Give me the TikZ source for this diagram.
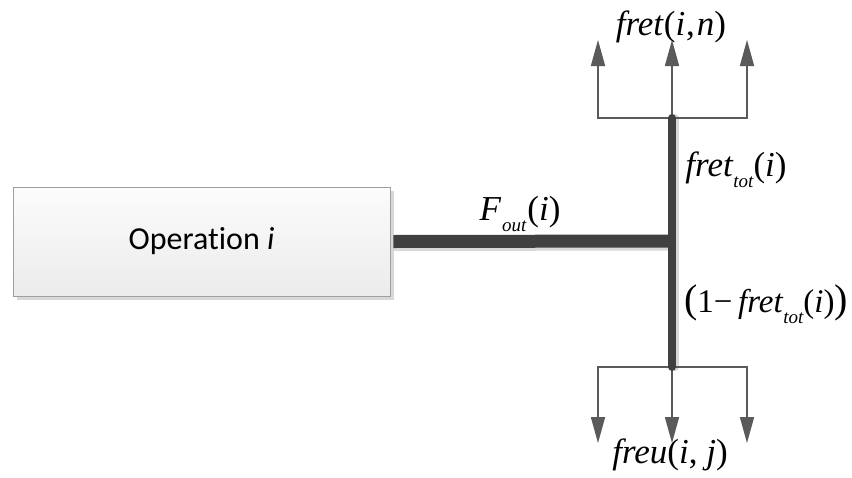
\documentclass[tikz,border=0pt]{standalone}
\usepackage{fontspec}
\setmainfont{Liberation Serif}
\newfontfamily\calib[Ligatures={NoCommon}]{Carlito}
\usetikzlibrary{arrows.meta}
\definecolor{dk}{HTML}{404040}
\definecolor{ln}{HTML}{5A5A5A}
\definecolor{shd}{HTML}{D8D8D8}
\definecolor{boxtop}{HTML}{FCFCFC}
\definecolor{boxbot}{HTML}{EBEBEB}
\newcommand{\mysub}[1]{\raisebox{-0.32em}{\fontsize{19}{19}\selectfont\itshape #1}}
\begin{document}
\begin{tikzpicture}[x=1pt,y=-1pt,
  opbox/.style={draw=gray!75, line width=0.8pt, top color=boxtop, bottom color=boxbot,
    minimum width=377pt, minimum height=109pt, inner sep=0pt, font=\calib\fontsize{32}{32}\selectfont},
  boxshadow/.style={fill=shd, draw=none},
  flowh/.style={draw=dk, line width=13pt},
  flowv/.style={draw=dk, line width=8pt, line cap=round},
  branch/.style={draw=ln, line width=1.5pt, -{Triangle[length=26pt,width=14pt]}},
  branchshd/.style={draw=shd!70, line width=1.5pt, -{Triangle[length=26pt,width=14pt]}},
  lbl/.style={font=\fontsize{35}{35}\selectfont, inner sep=0pt}
]
\useasboundingbox (0,0) rectangle (852,477);
% box shadow
\fill[boxshadow] (17,191) rectangle (394,300);
\node[opbox] (op) at (201.5,241.5) {Operation \textit{i}};

% coordinates
\coordinate (j) at (672,241);
\coordinate (t) at (672,118);
\coordinate (b) at (672,367);
\coordinate (tlu) at (598,40);
\coordinate (tmu) at (672,40);
\coordinate (tru) at (747,40);
\coordinate (bld) at (598,443);
\coordinate (bmd) at (672,443);
\coordinate (brd) at (747,443);

% branch shadows
\begin{scope}[shift={(3,3)}]
\draw[branchshd] (t) -| (tlu);
\draw[branchshd] (t) -- (tmu);
\draw[branchshd] (t) -| (tru);
\draw[branchshd] (b) -| (bld);
\draw[branchshd] (b) -- (bmd);
\draw[branchshd] (b) -| (brd);
\end{scope}
% main flow shadows
\draw[draw=shd, line width=13pt] ([xshift=3pt,yshift=-3pt]op.east) -- ([yshift=-3pt]j);
\draw[draw=shd, line width=8pt, line cap=round] ([xshift=3pt]t) -- ([xshift=3pt]b);

% branches
\draw[branch] (t) -| (tlu);
\draw[branch] (t) -- (tmu);
\draw[branch] (t) -| (tru);
\draw[branch] (b) -| (bld);
\draw[branch] (b) -- (bmd);
\draw[branch] (b) -| (brd);

% main flows
\draw[flowh] ([xshift=3pt]op.east) -- (j);
\draw[flowv] (t) -- (b);

% labels
\node[lbl] (ln) at (671,27) {\textit{fret}(\textit{i}\kern1pt,\kern2pt\textit{n})};
\node[lbl] (lt) at (736,170) {\textit{fret}\mysub{tot}(\textit{i})};
\node[lbl] (lf) at (520,214) {\textit{F}\kern1pt\mysub{out}\kern1pt(\textit{i})};
\node[lbl, font=\fontsize{33}{33}\selectfont] (lr) at (766,304) {{\fontsize{40}{40}\selectfont(}1−\,\textit{fret}\mysub{tot}(\textit{i}){\fontsize{40}{40}\selectfont)}};
\node[lbl] (lu) at (670,455) {\textit{freu}(\textit{i}, \textit{j})};
\end{tikzpicture}
\end{document}
